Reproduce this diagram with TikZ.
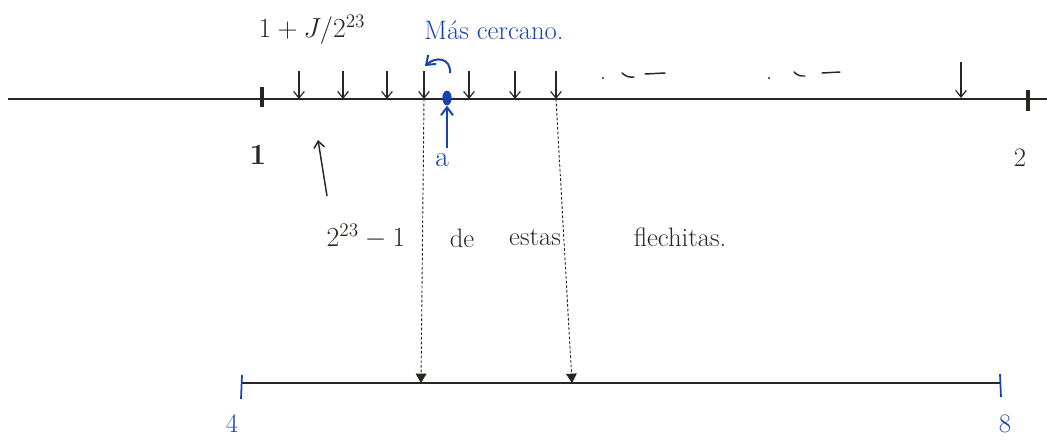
\documentclass[tikz,border=0pt]{standalone}
\usetikzlibrary{arrows.meta,positioning,calc,shapes.geometric}
\definecolor{ink}{RGB}{40,38,34}
\definecolor{bink}{RGB}{24,66,176}
\tikzset{
  axis/.style={draw=ink,line width=1.6pt},
  tck/.style={draw=ink,line width=2.6pt},
  btck/.style={draw=bink,line width=1.3pt},
  darr/.style={-{Straight Barb[length=5pt,width=8pt]},draw=ink,line width=0.9pt},
  proj/.style={-{Triangle[length=7pt,width=8pt]},draw=ink,line width=0.7pt,dash pattern=on 2pt off 1.5pt},
  barr/.style={-{Straight Barb[length=6pt,width=9pt]},draw=bink,line width=1.5pt},
  dots/.style={draw=ink,line width=1.1pt,line cap=round},
  txt/.style={text=ink,font=\fontsize{20}{23}\selectfont,inner sep=0pt},
  btxt/.style={txt,text=bink}
}
\begin{document}
\begin{tikzpicture}[x=0.75pt,y=-0.75pt]
  \useasboundingbox (0,0) rectangle (1047,440);

  % upper line: the floats between 1 and 2
  \coordinate (tl) at (8,99);
  \coordinate (tr) at (1047,99);
  \draw[axis] (tl) -- (tr);
  \coordinate (one) at (262,99);
  \coordinate (two) at (1028,99);
  \draw[tck] ($(one)+(0,-12)$) -- ($(one)+(0,8)$);
  \draw[tck] ($(two)+(0,-9)$) -- ($(two)+(0,12)$);
  \node[txt,font=\fontsize{22}{24}\selectfont\bfseries] (lone) at (258,155) {1};
  \node[txt] (ltwo) at (1020,158) {2};

  \foreach \x [count=\i] in {299,343,387,424,469,515,556}{
    \coordinate (f\i) at (\x,99);
    \draw[darr] ($(f\i)+(0,-28)$) -- (f\i);
  }
  \coordinate (flast) at (961,98);
  \draw[darr] ($(flast)+(0,-36)$) -- (flast);

  \node[txt] (frac) at (312,30) {$1+J/2^{23}$};

  % the ellipses
  \fill[ink] (603,78) circle (1.1);
  \draw[dots] (622,73) to[bend right=25] (634,77);
  \draw[dots] (645,74) -- (665,73);
  \fill[ink] (769,78) circle (1.1);
  \draw[dots] (794,72) to[bend right=25] (805,76);
  \draw[dots] (822,73) -- (840,72);

  % the value a and the nearest float
  \node[ellipse,fill=bink,inner sep=0pt,minimum width=7pt,minimum height=11pt] (aval) at (447,98) {};
  \coordinate (abot) at (447,148);
  \draw[barr] (abot) -- (aval.south);
  \node[btxt,font=\fontsize{22}{24}\selectfont] (la) at (442,160) {a};
  \node[btxt] (near) at (494,30) {Más cercano.};
  \coordinate (cs) at (450,73);
  \coordinate (ce) at (425,66);
  \draw[barr] (cs) .. controls (451,58) and (436,56) .. (ce);

  % the count
  \coordinate (cb) at (327,196);
  \coordinate (ct) at (318,140);
  \draw[darr,line width=1.1pt] (cb) -- (ct);
  \node[txt] (cnt) at (366,236) {$2^{23}-1$};
  \node[txt] (de) at (462,238) {de};
  \node[txt] (estas) at (535,237) {estas};
  \node[txt] (flech) at (680,237) {flechitas.};

  % lower line
  \coordinate (bl) at (242,383);
  \coordinate (br) at (1000,383);
  \draw[axis,line width=1.4pt] (bl) -- (br);
  \draw[btck] ($(bl)+(0,-8)$) -- ($(bl)+(-1,16)$);
  \draw[btck] ($(br)+(0,-9)$) -- ($(br)+(1,14)$);
  \node[btxt] (lfour) at (232,424) {4};
  \node[btxt] (leight) at (1005,424) {8};

  \coordinate (p1) at (421,383);
  \coordinate (p2) at (572,383);
  \draw[proj] (f4) -- (p1);
  \draw[proj] (f7) -- (p2);
\end{tikzpicture}
\end{document}
